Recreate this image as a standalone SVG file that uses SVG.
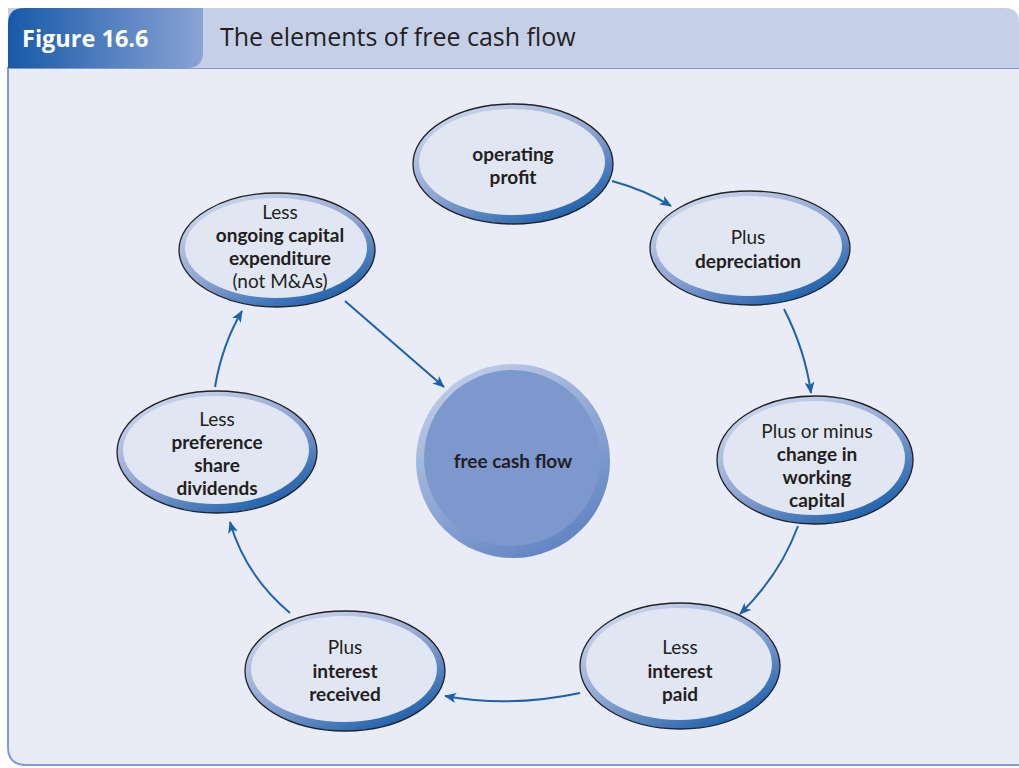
<svg xmlns="http://www.w3.org/2000/svg" width="1019" height="768" viewBox="0 0 1019 768">
<defs>
<linearGradient id="tab" x1="0" y1="0" x2="1" y2="0">
<stop offset="0" stop-color="#175aa8"/><stop offset="1" stop-color="#8aa3d4"/>
</linearGradient>
<linearGradient id="ring" x1="0.15" y1="0" x2="0.85" y2="1">
<stop offset="0" stop-color="#d3dbef"/><stop offset="0.5" stop-color="#8ea4d3"/><stop offset="1" stop-color="#0b56a6"/>
</linearGradient>
<linearGradient id="cring" x1="0.2" y1="0" x2="0.8" y2="1">
<stop offset="0" stop-color="#c4cfe9"/><stop offset="1" stop-color="#5a7fc0"/>
</linearGradient>
<marker id="ah" viewBox="0 0 12 10" refX="11" refY="5" markerWidth="12" markerHeight="10" markerUnits="userSpaceOnUse" orient="auto">
<path d="M0,0 L12,5 L0,10 L3,5 Z" fill="#1a62ae"/>
</marker>
</defs>
<style>
.o{stroke:#222;stroke-width:1.3;fill:url(#ring)}
.i{fill:#e1e6f3}
.t{font-family:Lato,"Open Sans",sans-serif;font-size:19px;fill:#231f20;text-anchor:middle}
.b{font-weight:bold}
.c{fill:none;stroke:#1a62ae;stroke-width:2;marker-end:url(#ah)}
</style>
<rect width="1019" height="768" fill="#ffffff"/>
<path d="M1025,68 H8 V747 Q8,765 26,765 H1025" fill="#e9ecf7" stroke="#7f9bd0" stroke-width="2"/>
<path d="M8,8 H1005 Q1019,8 1019,22 V68 H8 Z" fill="#c5d0e8"/>
<path d="M24,8 H203 V52 Q203,68 187,68 H8 V24 Q8,8 24,8 Z" fill="url(#tab)"/>
<text x="22" y="47" font-family="Open Sans,Noto Sans,sans-serif" font-size="23.5" font-weight="bold" fill="#ffffff">Figure 16.6</text>
<text x="220" y="46" font-family="Open Sans,Noto Sans,sans-serif" font-size="25" fill="#231f20">The elements of free cash flow</text>

<g id="connectors">
<path class="c" d="M612,181 Q645,190 671,206"/>
<path class="c" d="M784,309 Q805,350 811,393"/>
<path class="c" d="M798,526 Q780,575 740,614"/>
<path class="c" d="M580,693 Q510,708 445,696"/>
<path class="c" d="M290,613 Q245,575 230,522"/>
<path class="c" d="M215,387 Q222,345 242,311"/>
<path class="c" d="M345,301 L444,387"/>
</g>

<g id="fcf">
<circle cx="513" cy="461" r="97" fill="url(#cring)"/>
<circle cx="512" cy="458" r="88" fill="#7d98cc"/>
<text class="t b" x="513" y="468">free cash flow</text>
</g>

<g id="operating-profit">
<ellipse class="o" cx="513" cy="164" rx="100" ry="60"/>
<ellipse class="i" cx="512" cy="162" rx="93" ry="53"/>
<text class="t b" x="513" y="161">operating</text>
<text class="t b" x="513" y="184">profit</text>
</g>

<g id="depreciation">
<ellipse class="o" cx="750" cy="248" rx="100" ry="57"/>
<ellipse class="i" cx="749" cy="246" rx="93" ry="50"/>
<text class="t" x="748" y="244">Plus</text>
<text class="t b" x="748" y="268">depreciation</text>
</g>

<g id="working-capital">
<ellipse class="o" cx="815" cy="460" rx="98" ry="64"/>
<ellipse class="i" cx="814" cy="458" rx="91" ry="57"/>
<text class="t" x="817" y="438">Plus or minus</text>
<text class="t b" x="817" y="461">change in</text>
<text class="t b" x="817" y="484">working</text>
<text class="t b" x="817" y="507">capital</text>
</g>

<g id="interest-paid">
<ellipse class="o" cx="680" cy="666" rx="100" ry="63"/>
<ellipse class="i" cx="679" cy="664" rx="93" ry="56"/>
<text class="t" x="680" y="654">Less</text>
<text class="t b" x="680" y="678">interest</text>
<text class="t b" x="680" y="701">paid</text>
</g>

<g id="interest-received">
<ellipse class="o" cx="345" cy="671" rx="100" ry="60"/>
<ellipse class="i" cx="344" cy="669" rx="93" ry="53"/>
<text class="t" x="345" y="654">Plus</text>
<text class="t b" x="345" y="678">interest</text>
<text class="t b" x="345" y="701">received</text>
</g>

<g id="preference-dividends">
<ellipse class="o" cx="217" cy="452" rx="100" ry="61"/>
<ellipse class="i" cx="216" cy="450" rx="93" ry="54"/>
<text class="t" x="217" y="426">Less</text>
<text class="t b" x="217" y="449">preference</text>
<text class="t b" x="217" y="472">share</text>
<text class="t b" x="217" y="495">dividends</text>
</g>

<g id="capex">
<ellipse class="o" cx="277" cy="250" rx="98" ry="57"/>
<ellipse class="i" cx="276" cy="248" rx="91" ry="50"/>
<text class="t" x="280" y="219">Less</text>
<text class="t b" x="280" y="242">ongoing capital</text>
<text class="t b" x="280" y="265">expenditure</text>
<text class="t" x="280" y="288">(not M&amp;As)</text>
</g>
</svg>
